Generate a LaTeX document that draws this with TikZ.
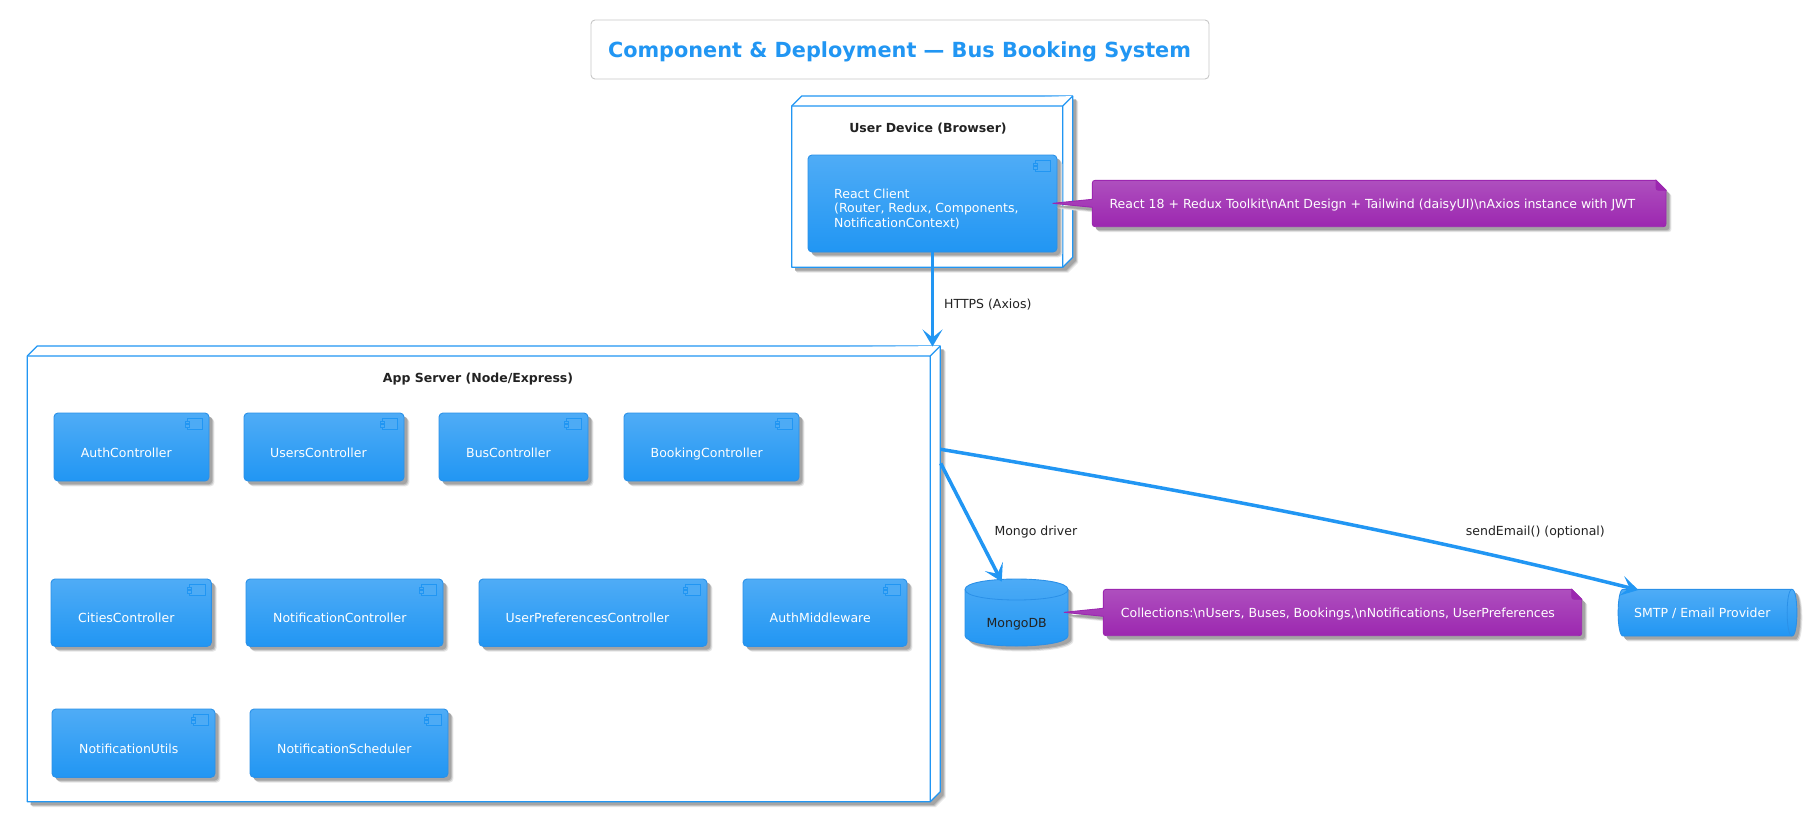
\documentclass[tikz,border=0pt]{standalone}
\usepackage{fontspec}
\setmainfont{DejaVu Sans}
\usetikzlibrary{arrows.meta,calc}
\definecolor{blueA}{HTML}{2196F3}
\definecolor{blueT}{HTML}{4FACF6}
\definecolor{blueE}{HTML}{2A90E8}
\definecolor{purA}{HTML}{9C27B0}
\definecolor{purT}{HTML}{AE4FBE}
\definecolor{inkA}{HTML}{222222}
\definecolor{shA}{HTML}{E6E6E6}
\definecolor{shB}{HTML}{C4C4C4}
\definecolor{shC}{HTML}{A4A4A4}
\tikzset{
  x=1pt,y=-1pt,
  basefont/.style={font=\fontsize{12.5}{14.5}\selectfont,inner sep=0pt,yshift=-.5pt},
  lbl/.style={basefont,text=inkA,anchor=base west},
  lblw/.style={basefont,text=white,anchor=base west},
  headlbl/.style={font=\fontsize{12.5}{14.5}\selectfont\bfseries,inner sep=0pt,text=inkA,anchor=base,yshift=-.7pt},
  frameline/.style={draw=blueA,line width=1.3pt,fill=white,line join=round},
  compbox/.style={rectangle,rounded corners=4pt,top color=blueT,bottom color=blueA,draw=blueE,line width=.9pt,inner sep=0pt,outer sep=0pt},
  storebox/.style={top color=blueT,bottom color=blueA,draw=blueE,line width=.9pt},
  notebox/.style={top color=purT,bottom color=purA,draw=purA,line width=.9pt,line join=bevel},
  flow/.style={draw=blueA,line width=3.5pt,-{Stealth[length=17pt,width=20pt,inset=8pt]}},
}
\newcommand{\softshadow}[1]{%
  \foreach \o/\c in {5.4/shA,4.4/shB,3.4/shC}{\fill[\c,shift={(\o,\o)}] #1;}}
\newcommand{\frameshape}[5]{% name l t r b
  \softshadow{(#2,#3) -- ($(#2,#3)+(10,-10)$) -- ($(#4,#3)+(10,-10)$) -- ($(#4,#5)+(10,-10)$) -- (#4,#5) -- (#2,#5) -- cycle}
  \path[frameline] (#2,#3) -- ($(#2,#3)+(10,-10)$) -- ($(#4,#3)+(10,-10)$) -- ($(#4,#5)+(10,-10)$) -- (#4,#5) -- (#2,#5) -- cycle;
  \path[frameline] (#2,#3) -- (#4,#3) -- ($(#4,#3)+(10,-10)$) (#4,#3) -- (#4,#5);
  \coordinate (#1) at (#4,#3);}
\newcommand{\comp}[5]{% name x1 y1 x2 y2
  \softshadow{[rounded corners=4pt] (#2,#3) rectangle (#4,#5)}
  \pgfmathsetmacro{\cw}{#4-#2}\pgfmathsetmacro{\ch}{#5-#3}
  \node[compbox,minimum width=\cw pt,minimum height=\ch pt] (#1) at ($(#2,#3)!.5!(#4,#5)$) {};
  \path[draw=blueA,fill=blueA!80!white,line width=.8pt] ($(#4,#3)+(-21.5,5.5)$) rectangle ($(#4,#3)+(-6.3,16.8)$);
  \path[draw=blueA,fill=blueA!80!white,line width=.7pt] ($(#4,#3)+(-23.6,8)$) rectangle ($(#4,#3)+(-19.8,10.4)$);
  \path[draw=blueA,fill=blueA!80!white,line width=.7pt] ($(#4,#3)+(-23.6,11.6)$) rectangle ($(#4,#3)+(-19.8,14)$);}
\newcommand{\notepath}[7]{% l t r b tipx tipy extra
  (#1+3,#2) -- (#3-10,#2) -- (#3,#2+10) -- (#3,#4-3) .. controls (#3,#4-1) and (#3-1,#4) .. (#3-3,#4)
  -- (#1+3,#4) .. controls (#1+1,#4) and (#1,#4-1) .. (#1,#4-3) -- (#1,#6+4) -- (#5,#6) -- (#1,#6-4) -- (#1,#2+3) .. controls (#1,#2+1) and (#1+1,#2) .. (#1+3,#2) -- cycle}
\newcommand{\notefold}[2]{% r t
  \path[draw=purA,fill=purA,line width=.8pt] (#1-10,#2) -- (#1,#2+10) -- (#1-7.5,#2+10) .. controls (#1-9,#2+10) and (#1-10,#2+9) .. (#1-10,#2+7.5) -- cycle;}
\begin{document}
\begin{tikzpicture}
\useasboundingbox (0,0) rectangle (1807,823);
\fill[white] (0,0) rectangle (1807,823);
% title
\node[draw=black!22,line width=.9pt,fill=white,rounded corners=4pt,minimum width=618pt,minimum height=59pt,inner sep=0pt] (titlebox) at (900,49.5) {};
\node[font=\fontsize{20.8}{25}\selectfont\bfseries,text=blueA,inner sep=0pt,anchor=base] (titletext) at (899.5,57.3) {Component \& Deployment — Bus Booking System};
% deployment frames
\frameshape{deviceCorner}{791.7}{106}{1062.7}{267.3}
\node[headlbl] (deviceLabel) at (928,131.7) {User Device (Browser)};
\frameshape{appCorner}{27.3}{356}{930.3}{801.7}
\node[headlbl] (appLabel) at (478,381.7) {App Server (Node/Express)};
% components
\comp{react}{808}{155}{1057}{252}
\node[basefont,text=white,anchor=west,align=left] (reactText) at (834,208.5) {React Client\\(Router, Redux, Components,\\NotificationContext)};
\comp{auth}{54}{413}{209}{481}
\node[lblw] (authText) at (80.7,456.7) {AuthController};
\comp{users}{244}{413}{404}{481}
\node[lblw] (usersText) at (270,456.7) {UsersController};
\comp{bus}{439}{413}{588}{481}
\node[lblw] (busText) at (466,456.7) {BusController};
\comp{booking}{624}{413}{799}{481}
\node[lblw] (bookingText) at (650.5,456.7) {BookingController};
\comp{cities}{51}{579}{211.3}{646.3}
\node[lblw] (citiesText) at (78,622.3) {CitiesController};
\comp{notifctl}{246}{579}{443}{646.3}
\node[lblw] (notifctlText) at (273,622.3) {NotificationController};
\comp{prefs}{479}{579}{707}{646.3}
\node[lblw] (prefsText) at (505.5,622.3) {UserPreferencesController};
\comp{middleware}{743}{579}{907}{646.3}
\node[lblw] (middlewareText) at (769.5,622.3) {AuthMiddleware};
\comp{utils}{52}{709}{215}{777.3}
\node[lblw] (utilsText) at (79,752.7) {NotificationUtils};
\comp{sched}{250}{709}{448}{777.3}
\node[lblw] (schedText) at (277,752.7) {NotificationScheduler};
% database
\softshadow{(965,589.5) .. controls (965,575.5) and (1068,575.5) .. (1068,589.5) -- (1068,635.5) .. controls (1068,649.5) and (965,649.5) .. (965,635.5) -- cycle}
\path[storebox] (965,589.5) .. controls (965,575.5) and (1068,575.5) .. (1068,589.5) -- (1068,635.5) .. controls (1068,649.5) and (965,649.5) .. (965,635.5) -- cycle;
\draw[blueE,line width=.8pt] (965,589.5) .. controls (965,603.5) and (1068,603.5) .. (1068,589.5);
\node[basefont,text=inkA,anchor=base] (mongoText) at (1016.7,627.3) {MongoDB};
% queue
\softshadow{(1623,589.3) -- (1792,589.3) .. controls (1798.5,589.3) and (1798.5,636) .. (1792,636) -- (1623,636) .. controls (1616.5,636) and (1616.5,589.3) .. (1623,589.3) -- cycle}
\path[storebox] (1623,589.3) -- (1792,589.3) .. controls (1798.5,589.3) and (1798.5,636) .. (1792,636) -- (1623,636) .. controls (1616.5,636) and (1616.5,589.3) .. (1623,589.3) -- cycle;
\draw[blueE,line width=.8pt] (1792,589.3) .. controls (1785.5,589.3) and (1785.5,636) .. (1792,636);
\node[lblw] (smtpText) at (1634,616.7) {SMTP / Email Provider};
% connectors
\coordinate (appTop) at (932.5,346.5);
\coordinate (appSideA) at (940.7,463.3);
\coordinate (appSideB) at (940.7,449.3);
\coordinate (mongoIn) at (1001.7,581.7);
\coordinate (smtpIn) at (1638.3,590);
\draw[flow] (react.south) -- (appTop);
\draw[flow] (appSideA) -- (mongoIn);
\draw[flow] (appSideB) .. controls (1170,488) and (1400,530) .. (smtpIn);
\node[lbl] (httpsLabel) at (944,307.7) {HTTPS (Axios)};
\node[lbl] (mongoLabel) at (994.3,534.7) {Mongo driver};
\node[lbl] (mailLabel) at (1465.7,535) {sendEmail() (optional)};
% notes
\softshadow{\notepath{1092.3}{180.3}{1666}{226.7}{1052.7}{203.3}{}}
\path[notebox] \notepath{1092.3}{180.3}{1666}{226.7}{1052.7}{203.3}{};
\notefold{1666}{180.3}
\node[lblw] (noteOneText) at (1109.3,207.7) {React 18 + Redux Toolkit\textbackslash nAnt Design + Tailwind (daisyUI)\textbackslash nAxios instance with JWT};
\softshadow{\notepath{1103.3}{589.3}{1581.7}{635.7}{1064}{612.3}{}}
\path[notebox] \notepath{1103.3}{589.3}{1581.7}{635.7}{1064}{612.3}{};
\notefold{1581.7}{589.3}
\node[lblw] (noteTwoText) at (1120.7,616.7) {Collections:\textbackslash nUsers, Buses, Bookings,\textbackslash nNotifications, UserPreferences};
\end{tikzpicture}
\end{document}
